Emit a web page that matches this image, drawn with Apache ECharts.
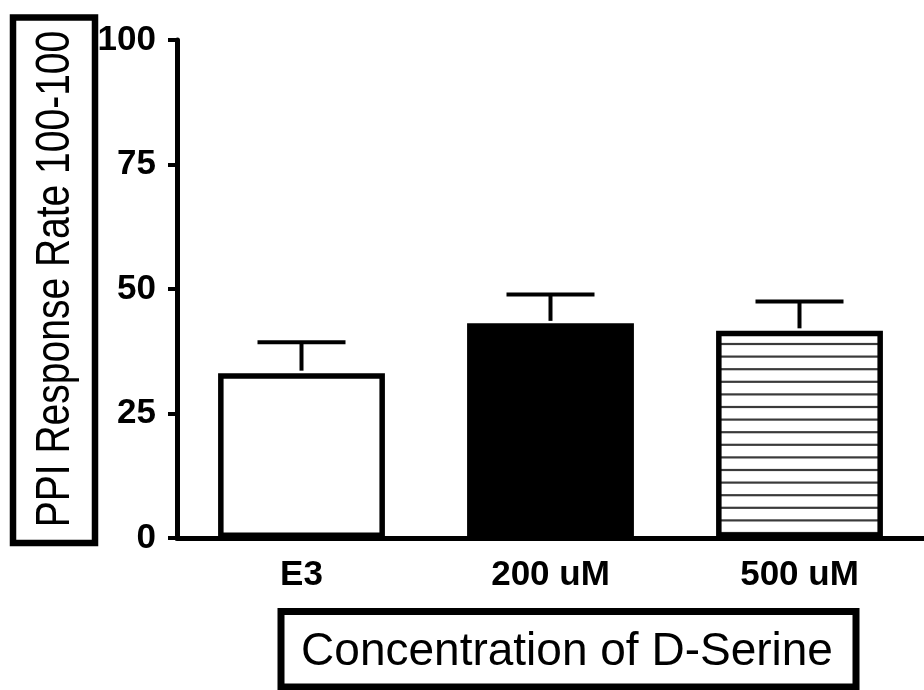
<!DOCTYPE html>
<html>
<head>
<meta charset="utf-8">
<script src="https://cdn.jsdelivr.net/npm/echarts@6/dist/echarts.min.js"></script>
<style>
html,body{margin:0;padding:0;background:#fff;}
#chart{width:924px;height:690px;}
</style>
</head>
<body>
<div id="chart"></div>
<script>
// ---- data ----
var categories = ['E3', '200 uM', '500 uM'];
var means = [33.1, 43.1, 41.6];
var sem = [6.2, 5.8, 5.9];
var yTicks = [0, 25, 50, 75, 100];
var yTitle = 'PPI Response Rate 100-100';
var xTitle = 'Concentration of D-Serine';

// hatch pattern for third bar
function makeHatch() {
  var c = document.createElement('canvas');
  c.width = 10; c.height = 63;
  var ctx = c.getContext('2d');
  ctx.fillStyle = '#fff';
  ctx.fillRect(0, 0, 10, 63);
  ctx.strokeStyle = '#3a3a3a';
  ctx.lineWidth = 2.2;
  for (var k = 0; k < 5; k++) {
    var y = 3.8 + 12.6 * k;
    ctx.beginPath();
    ctx.moveTo(0, y); ctx.lineTo(10, y);
    ctx.stroke();
  }
  return c;
}
var fills = ['#ffffff', '#000000', { image: makeHatch(), repeat: 'repeat' }];

var barData = means.map(function (v, i) {
  return { value: v, itemStyle: { color: fills[i] } };
});
var errData = means.map(function (v, i) { return [i, v, v + sem[i]]; });

var chart = echarts.init(document.getElementById('chart'), null, { renderer: 'canvas' });
chart.setOption({
  animation: false,
  backgroundColor: '#fff',
  grid: { left: 177, top: 40, width: 750, height: 498, containLabel: false },
  xAxis: {
    type: 'category',
    data: categories,
    axisLine: { lineStyle: { color: '#000', width: 5 } },
    axisTick: { alignWithLabel: true, length: 14, lineStyle: { color: '#000', width: 4 } },
    axisLabel: { color: '#000', fontFamily: 'Liberation Sans', fontWeight: 'bold', fontSize: 35, margin: 20 },
    splitLine: { show: false }
  },
  yAxis: {
    type: 'value',
    min: yTicks[0],
    max: yTicks[yTicks.length - 1],
    interval: 25,
    axisLine: { show: true, lineStyle: { color: '#000', width: 5 } },
    axisTick: { show: true, length: 9, lineStyle: { color: '#000', width: 4 } },
    axisLabel: { color: '#000', fontFamily: 'Liberation Sans', fontWeight: 'bold', fontSize: 35, margin: 21 },
    splitLine: { show: false }
  },
  series: [
    {
      type: 'bar',
      data: barData,
      barWidth: '67%',
      itemStyle: { borderColor: '#000', borderWidth: 5.5 },
      z: 2
    },
    {
      type: 'custom',
      data: errData,
      z: 3,
      renderItem: function (params, api) {
        var i = api.value(0);
        var p0 = api.coord([i, api.value(1)]);
        var p1 = api.coord([i, api.value(2)]);
        var half = 44;
        var st = { stroke: '#000', lineWidth: 4 };
        return {
          type: 'group',
          children: [
            { type: 'line', shape: { x1: p0[0], y1: p0[1] - 2.5, x2: p1[0], y2: p1[1] }, style: st },
            { type: 'line', shape: { x1: p1[0] - half, y1: p1[1], x2: p1[0] + half, y2: p1[1] }, style: st }
          ]
        };
      }
    }
  ],
  graphic: [
    { type: 'rect', shape: { x: 13, y: 17.5, width: 82, height: 525.5 }, style: { fill: 'none', stroke: '#000', lineWidth: 6.5 } },
    { type: 'text', x: 56, y: 279, rotation: Math.PI / 2, scaleY: 1.22,
      style: { text: yTitle, fill: '#000', font: '39px "Liberation Sans"', textAlign: 'center', textVerticalAlign: 'middle' } },
    { type: 'rect', shape: { x: 281, y: 611.5, width: 575, height: 75.5 }, style: { fill: 'none', stroke: '#000', lineWidth: 7 } },
    { type: 'text', x: 567, y: 652,
      style: { text: xTitle, fill: '#000', font: '46px "Liberation Sans"', textAlign: 'center', textVerticalAlign: 'middle' } }
  ]
});
</script>
</body>
</html>
